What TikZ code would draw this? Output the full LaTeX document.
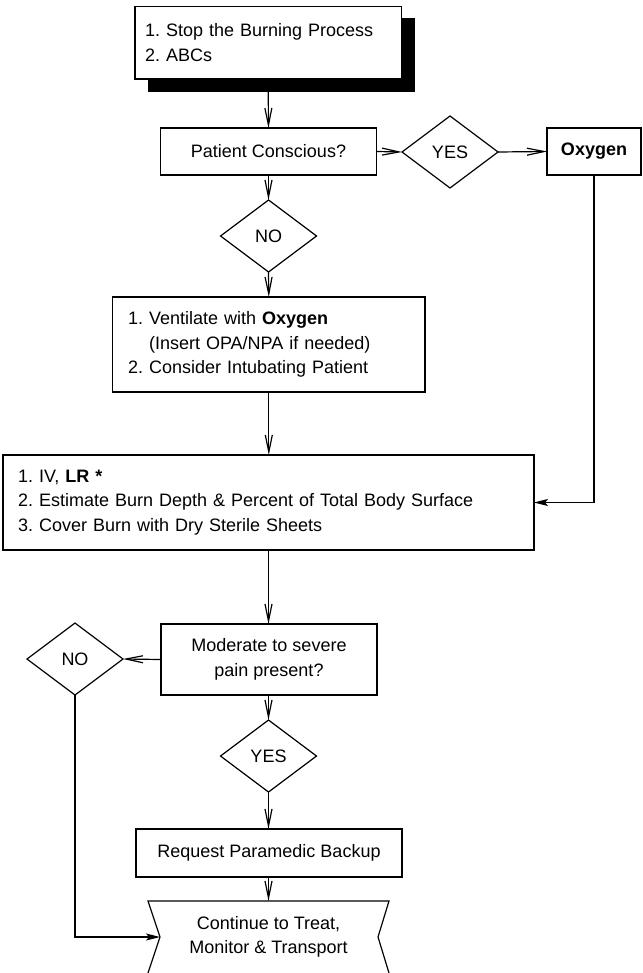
\documentclass[tikz,border=0pt]{standalone}
\usepackage{fontspec}
\setmainfont{Liberation Sans}
\usetikzlibrary{arrows.meta,shapes.geometric}
\frenchspacing
\begin{document}
\begin{tikzpicture}[x=1pt,y=-1pt,line width=1.2pt,
  every node/.style={font=\fontsize{18}{24.5}\selectfont},
  box/.style={draw,rectangle,inner sep=0pt,outer sep=0pt,fill=white},
  decision/.style={draw,diamond,inner sep=0pt,outer sep=0pt,aspect=1.333,minimum width=96pt,minimum height=72pt},
  conn/.style={-{Straight Barb[length=17pt,width=7pt]}},
  fconn/.style={-{Stealth[length=14pt,width=7pt,inset=3pt]}}]
\useasboundingbox (0,0) rectangle (642,973);
% start box with shadow
\node[fill=black,inner sep=0pt,outer sep=0pt,minimum width=267.3pt,minimum height=73.7pt] (shadow) at (281.35,54.85) {};
\node[box,inner xsep=10pt,text width=246.5pt,minimum height=72.5pt,align=left] (top) at (268.25,42.75)
  {1. Stop the Burning Process\\2. ABCs};
\node[box,minimum width=216pt,minimum height=47pt] (pc) at (268.5,151.5) {Patient Conscious?};
\node[decision] (yes1) at (450,152) {YES};
\node[box,minimum width=94pt,minimum height=47pt] (oxy) at (594,151.5) {\textbf{Oxygen}};
\node[decision] (no1) at (268.5,236) {NO};
\node[box,inner xsep=15.4pt,text width=281.6pt,minimum height=95pt,align=left] (vent) at (268.8,344.5)
  {1. Ventilate with \textbf{Oxygen}\\\phantom{1.\ }(Insert OPA/NPA if needed)\\2. Consider Intubating Patient};
\node[box,inner xsep=15pt,text width=501pt,minimum height=95pt,align=left] (iv) at (268.5,502.5)
  {1. IV, \textbf{LR *}\\2. Estimate Burn Depth \& Percent of Total Body Surface\\3. Cover Burn with Dry Sterile Sheets};
\node[box,minimum width=216pt,minimum height=71pt,align=center] (mod) at (269,659.5)
  {Moderate to severe\\pain present?};
\node[decision] (no2) at (75,659) {NO};
\node[decision] (yes2) at (268.5,756) {YES};
\node[box,minimum width=266pt,minimum height=48pt] (req) at (269,853) {Request Paramedic Backup};
\node[inner sep=0pt,outer sep=0pt,minimum width=241pt,minimum height=72pt,align=center] (cont) at (268.5,937)
  {Continue to Treat,\\Monitor \& Transport};
\draw (cont.south west) -- ([xshift=12pt]cont.west) -- (cont.north west) -- (cont.north east)
  -- ([xshift=-11pt]cont.east) -- (cont.south east);
\coordinate (contL) at ([xshift=12pt]cont.west);
% connectors
\draw[conn] (top.south |- shadow.south) -- (pc.north);
\draw[conn] (pc.east) -- (yes1.west);
\draw[conn] (yes1.east) -- (oxy.west);
\draw[conn] (pc.south) -- (no1.north);
\draw[conn] (no1.south) -- (vent.north);
\draw[conn] (vent.south) -- (vent.south |- iv.north);
\draw[fconn] (oxy.south) |- (iv.east);
\draw[conn] (iv.south) -- (iv.south |- mod.north);
\draw[conn] (mod.west) -- (no2.east);
\draw[conn] (yes2.north |- mod.south) -- (yes2.north);
\draw[conn] (yes2.south) -- (yes2.south |- req.north);
\draw[conn] (cont.north |- req.south) -- (cont.north);
\draw[fconn] (no2.south) |- (contL);
\end{tikzpicture}
\end{document}
